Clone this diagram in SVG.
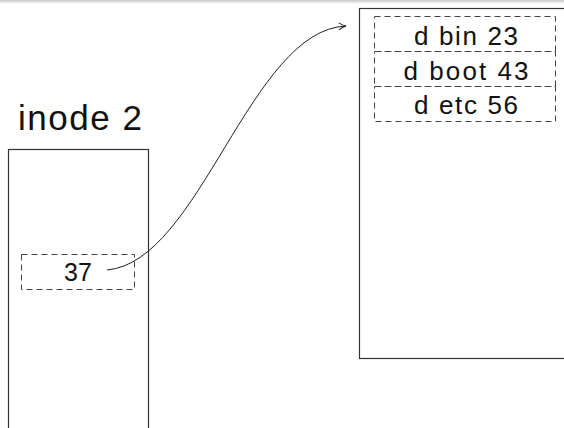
<svg xmlns="http://www.w3.org/2000/svg" width="564" height="428" viewBox="0 0 564 428">
  <defs>
    <linearGradient id="topShade" x1="0" y1="0" x2="0" y2="1">
      <stop offset="0" stop-color="#c8c8c8"/>
      <stop offset="1" stop-color="#ffffff"/>
    </linearGradient>
    <marker id="arrow" viewBox="0 0 10 10" refX="9" refY="5" markerWidth="10" markerHeight="10" markerUnits="userSpaceOnUse" orient="auto">
      <path d="M2,1.5 Q5,4 9,5 Q5,6 2,8.5" fill="none" stroke="#222" stroke-width="1"/>
    </marker>
    <style>
      .box { fill: #ffffff; stroke: #333; stroke-width: 1.2; }
      .slot { fill: none; stroke: #444; stroke-width: 1; stroke-dasharray: 6 4; }
      .label { font-family: "Liberation Sans", "DejaVu Sans", sans-serif; fill: #111; text-anchor: middle; }
      .edge { fill: none; stroke: #222; stroke-width: 1; }
    </style>
  </defs>

  <rect x="0" y="0" width="564" height="428" fill="#ffffff"/>
  <rect x="0" y="0" width="564" height="4" fill="url(#topShade)"/>

  <!-- inode 2 block -->
  <g id="inode2">
    <text class="label" x="80" y="130" font-size="35" textLength="124" lengthAdjust="spacing">inode 2</text>
    <rect class="box" x="8.5" y="149.5" width="140" height="290"/>
    <rect class="slot" x="21.5" y="254.5" width="113" height="35"/>
    <text class="label" x="78" y="281" font-size="25">37</text>
  </g>

  <!-- directory data block -->
  <g id="dirblock">
    <rect class="box" x="359.5" y="8.5" width="220" height="350"/>
    <rect class="slot" x="374.5" y="16.5" width="181" height="35"/>
    <rect class="slot" x="374.5" y="51.5" width="181" height="35"/>
    <rect class="slot" x="374.5" y="86.5" width="181" height="35"/>
    <text class="label" x="466" y="45" font-size="26" textLength="104" lengthAdjust="spacing">d bin 23</text>
    <text class="label" x="466" y="80" font-size="26" textLength="125" lengthAdjust="spacing">d boot 43</text>
    <text class="label" x="466" y="114" font-size="26" textLength="104" lengthAdjust="spacing">d etc 56</text>
  </g>

  <!-- pointer from inode entry to the directory block -->
  <g id="connectors">
    <path class="edge" d="M107,270 C200,262 250,30 346,26" marker-end="url(#arrow)"/>
  </g>
</svg>
